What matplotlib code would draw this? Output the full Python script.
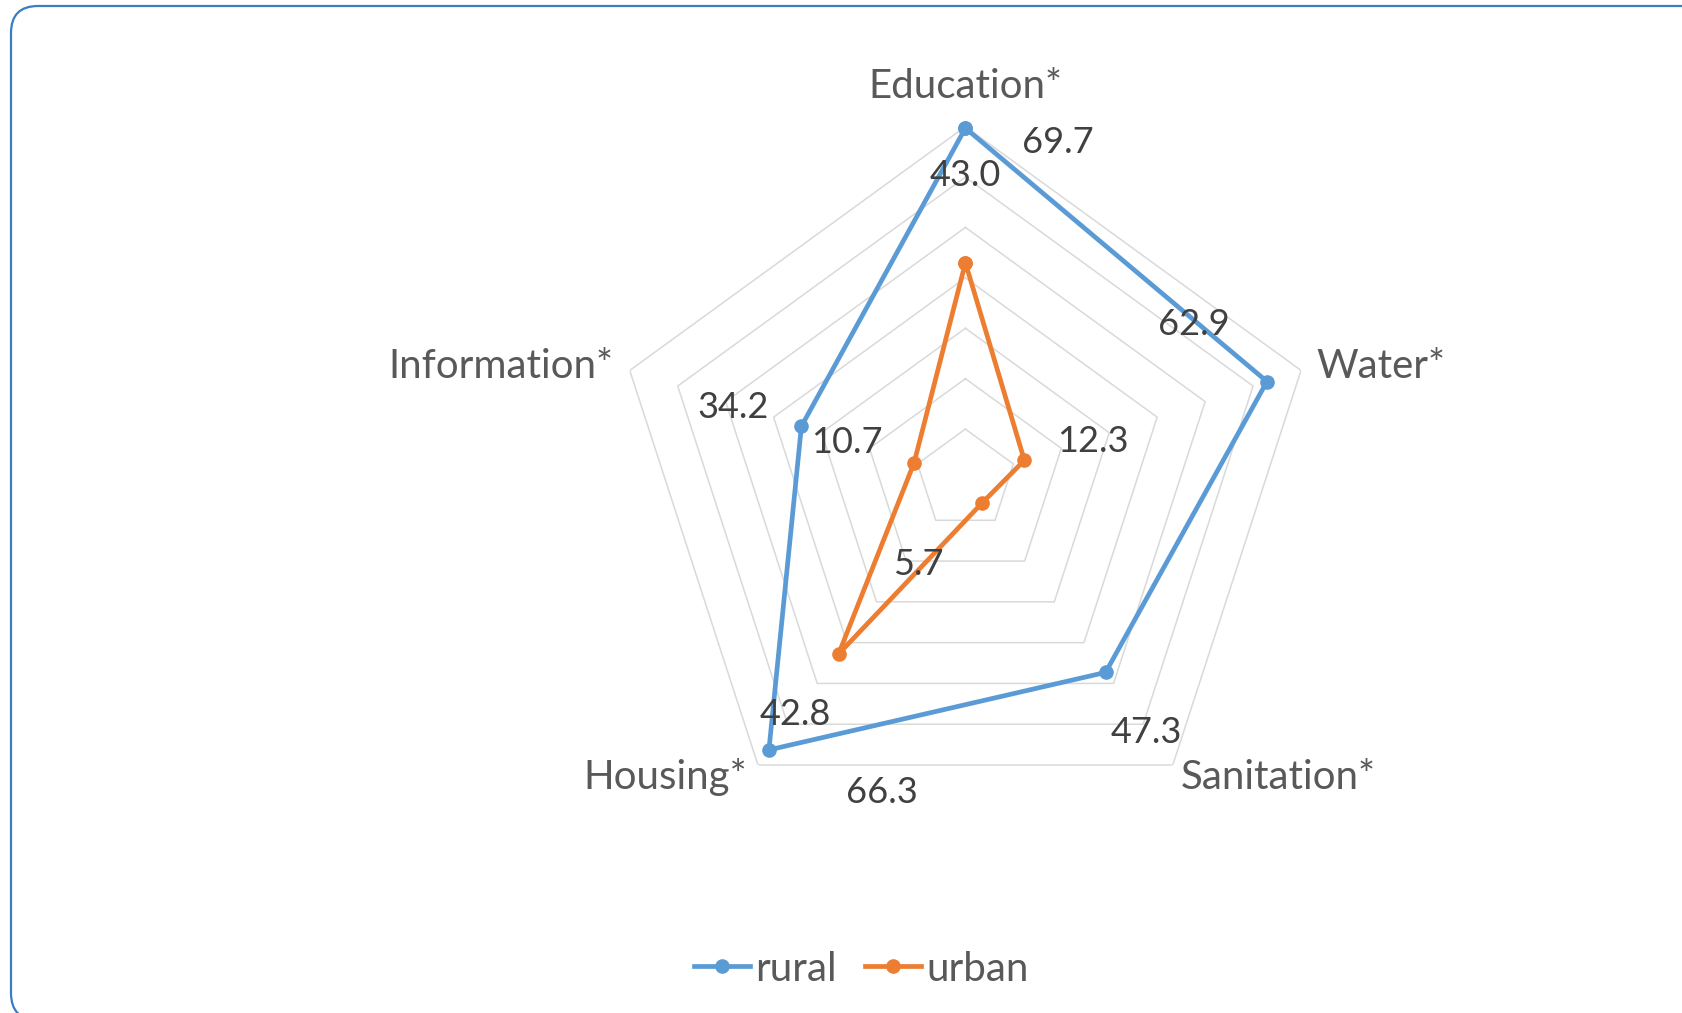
import numpy as np
import matplotlib
matplotlib.use("Agg")
import matplotlib.pyplot as plt
from matplotlib.patches import FancyBboxPatch
from matplotlib.lines import Line2D

categories = ["Education*", "Water*", "Sanitation*", "Housing*", "Information*"]
rural = [69.7, 62.9, 47.3, 66.3, 34.2]
urban = [43.0, 12.3, 5.7, 42.8, 10.7]
rings = [10, 20, 30, 40, 50, 60, 70]
series_names = ["rural", "urban"]

BLUE = "#5B9BD5"
ORANGE = "#ED7D31"
GRID = "#D9D9D9"
LABEL = "#404040"
CAT = "#595959"
FONT = ["Lato", "DejaVu Sans"]

W, H = 1682, 1013
fig = plt.figure(figsize=(W / 100, H / 100), dpi=100)

# background border (pixel-space axes, y up)
bg = fig.add_axes([0, 0, 1, 1])
bg.set_xlim(0, W)
bg.set_ylim(0, H)
bg.axis("off")
bg.add_patch(FancyBboxPatch((11, H - 1020), 1760, 1014, boxstyle="round,pad=0,rounding_size=27",
                            fill=False, edgecolor="#3A7DC2", linewidth=1.6, clip_on=False))

# radar axes
cx, cy, R = 965.4, 479.5, 352.9
ax = fig.add_axes([(cx - R) / W, 1 - (cy + R) / H, 2 * R / W, 2 * R / H], projection="polar")
ax.set_theta_offset(np.pi / 2)
ax.set_theta_direction(-1)
ax.set_ylim(0, 70)
ax.axis("off")

n = len(categories)
theta = np.arange(n) * 2 * np.pi / n
theta_c = np.append(theta, theta[0])

for r in rings:
    ax.plot(theta_c, [r] * (n + 1), color=GRID, lw=1.1, zorder=1)


def closed(v):
    return list(v) + [v[0]]


ax.plot(theta_c, closed(rural), color=BLUE, lw=3.4, marker="o", ms=9.5, zorder=3, clip_on=False)
ax.plot(theta_c, closed(urban), color=ORANGE, lw=3.4, marker="o", ms=9.5, zorder=3, clip_on=False)

fs = 26
fs_cat = 29
# data label offsets (pixels)
rural_off = [(92, -14), (-73, 57), (41, -60), (113, -43), (-68, 19)]
urban_off = [(0, 87), (68, 19), (-64, -62), (-43, -60), (-67, 20)]
for t, v, o in zip(theta, rural, rural_off):
    ax.annotate(f"{v:.1f}", (t, v), xytext=o, textcoords="offset pixels", ha="center", va="center",
                fontsize=fs, color=LABEL, family=FONT, zorder=4)
for t, v, o in zip(theta, urban, urban_off):
    ax.annotate(f"{v:.1f}", (t, v), xytext=o, textcoords="offset pixels", ha="center", va="center",
                fontsize=fs, color=LABEL, family=FONT, zorder=4)

cat_off = [((0, 40), "center"), ((15, 4), "left"), ((8, -12), "left"), ((-11, -12), "right"), ((-16, 4), "right")]
for t, c, (o, ha) in zip(theta, categories, cat_off):
    ax.annotate(c, (t, 70), xytext=o, textcoords="offset pixels", ha=ha, va="center",
                fontsize=fs_cat, color=CAT, family=FONT, annotation_clip=False)

handles = [Line2D([], [], color=BLUE, lw=3.4, marker="o", ms=9.5),
           Line2D([], [], color=ORANGE, lw=3.4, marker="o", ms=9.5)]
leg = fig.legend(handles, series_names, loc="center", bbox_to_anchor=(861 / W, 1 - 969 / H),
                 ncol=2, frameon=False, prop={"family": FONT, "size": fs_cat},
                 handlelength=1.4, handletextpad=0.12, columnspacing=0.7)
for txt in leg.get_texts():
    txt.set_color(CAT)

fig.savefig("out.png", dpi=100)
